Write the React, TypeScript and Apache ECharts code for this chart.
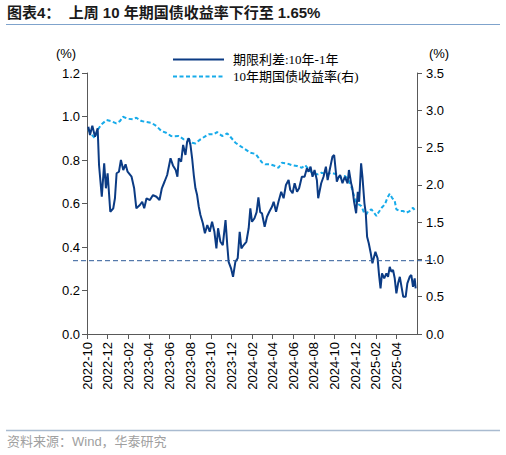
import React, { useEffect, useRef } from "react";
import * as echarts from "echarts";

const spreadDates = [
  "2022-10-05","2022-10-10","2022-10-17","2022-10-25","2022-11-02","2022-11-06","2022-11-14","2022-11-21","2022-11-26",
  "2022-12-01","2022-12-09","2022-12-18","2022-12-23","2022-12-28","2023-01-04","2023-01-10","2023-01-17","2023-01-24",
  "2023-01-30","2023-02-10","2023-02-17","2023-02-23","2023-03-05","2023-03-12","2023-03-18","2023-03-25","2023-04-04",
  "2023-04-13","2023-04-23","2023-05-02","2023-05-09","2023-05-17","2023-05-25","2023-06-04","2023-06-11","2023-06-19",
  "2023-06-24","2023-06-28","2023-07-05","2023-07-11","2023-07-18","2023-07-23","2023-07-28","2023-08-02","2023-08-07",
  "2023-08-12","2023-08-17","2023-08-22","2023-08-27","2023-09-01","2023-09-08","2023-09-14","2023-09-21","2023-09-28",
  "2023-10-05","2023-10-12","2023-10-18","2023-10-23","2023-10-30","2023-11-06","2023-11-14","2023-11-19","2023-11-23",
  "2023-11-30","2023-12-06","2023-12-13","2023-12-20","2023-12-26","2023-12-31","2024-01-07","2024-01-15","2024-01-22",
  "2024-01-27","2024-02-01","2024-02-08","2024-02-14","2024-02-19","2024-02-24","2024-02-29","2024-03-08","2024-03-15",
  "2024-03-22","2024-03-30","2024-04-04","2024-04-11","2024-04-18","2024-04-26","2024-05-03","2024-05-10","2024-05-18",
  "2024-05-23","2024-05-30","2024-06-05","2024-06-12","2024-06-18","2024-06-26","2024-07-04","2024-07-11","2024-07-16",
  "2024-07-22","2024-07-28","2024-08-03","2024-08-10","2024-08-14","2024-08-23","2024-08-30","2024-09-06","2024-09-11",
  "2024-09-18","2024-09-25","2024-09-30","2024-10-08","2024-10-13","2024-10-18","2024-10-25","2024-11-01","2024-11-09",
  "2024-11-13","2024-11-19","2024-11-23","2024-11-28","2024-12-04","2024-12-09","2024-12-13","2024-12-19","2024-12-23",
  "2024-12-29","2025-01-02","2025-01-06","2025-01-11","2025-01-17","2025-01-22","2025-01-27","2025-01-31","2025-02-06",
  "2025-02-10","2025-02-14","2025-02-18","2025-02-24","2025-03-02","2025-03-07","2025-03-12","2025-03-17","2025-03-22",
  "2025-03-27","2025-04-01","2025-04-06","2025-04-11","2025-04-16","2025-04-21","2025-04-28","2025-05-03","2025-05-10",
  "2025-05-15","2025-05-20","2025-05-25","2025-05-28",
];
const spreadValues = [
  0.953,0.915,0.958,0.907,0.946,0.777,0.631,0.785,0.670,
  0.739,0.562,0.578,0.624,0.739,0.746,0.800,0.754,0.780,
  0.746,0.723,0.670,0.578,0.593,0.608,0.578,0.624,0.616,
  0.639,0.631,0.616,0.670,0.700,0.731,0.808,0.775,0.754,
  0.723,0.808,0.792,0.869,0.823,0.884,0.900,0.869,0.808,
  0.731,0.670,0.639,0.585,0.547,0.509,0.463,0.501,0.470,
  0.516,0.470,0.394,0.486,0.424,0.409,0.524,0.409,0.332,
  0.302,0.263,0.332,0.348,0.470,0.394,0.409,0.424,0.486,
  0.578,0.516,0.532,0.560,0.628,0.560,0.555,0.493,0.539,
  0.562,0.585,0.608,0.562,0.608,0.654,0.624,0.685,0.708,
  0.662,0.647,0.693,0.654,0.670,0.723,0.723,0.762,0.746,
  0.769,0.723,0.754,0.708,0.624,0.693,0.723,0.769,0.708,
  0.762,0.815,0.823,0.700,0.720,0.731,0.693,0.723,0.693,
  0.754,0.696,0.670,0.608,0.555,0.654,0.608,0.785,0.723,
  0.601,0.555,0.447,0.417,0.371,0.325,0.355,0.378,0.348,
  0.271,0.210,0.279,0.256,0.279,0.263,0.309,0.286,0.294,
  0.256,0.187,0.233,0.263,0.217,0.171,0.171,0.233,0.263,
  0.271,0.217,0.256,0.210,
];

const yieldDates = [
  "2022-10-05","2022-10-14","2022-10-24","2022-11-03","2022-11-13","2022-11-28","2022-12-12","2022-12-27","2023-01-07",
  "2023-01-16","2023-01-31","2023-02-14","2023-02-23","2023-03-10","2023-03-25","2023-04-08","2023-04-23","2023-05-08",
  "2023-05-22","2023-06-06","2023-06-14","2023-06-28","2023-07-13","2023-07-28","2023-08-07","2023-08-17","2023-09-01",
  "2023-09-16","2023-09-25","2023-10-10","2023-10-20","2023-11-04","2023-11-19","2023-11-28","2023-12-13","2023-12-28",
  "2024-01-12","2024-01-27","2024-02-11","2024-02-20","2024-02-29","2024-03-10","2024-03-25","2024-04-09","2024-04-18",
  "2024-04-28","2024-05-13","2024-05-27","2024-06-12","2024-06-26","2024-07-06","2024-07-16","2024-07-31","2024-08-14",
  "2024-08-24","2024-09-08","2024-09-23","2024-10-07","2024-10-20","2024-11-01","2024-11-11","2024-11-21","2024-11-28",
  "2024-12-05","2024-12-12","2024-12-20","2024-12-28","2025-01-04","2025-01-09","2025-01-19","2025-01-27","2025-02-03",
  "2025-02-08","2025-02-17","2025-02-26","2025-03-05","2025-03-12","2025-03-19","2025-03-27","2025-04-01","2025-04-11",
  "2025-04-21","2025-04-30","2025-05-10","2025-05-20","2025-05-27",
];
const yieldValues = [
  2.744,2.677,2.631,2.744,2.811,2.869,2.855,2.824,2.855,
  2.913,2.886,2.878,2.900,2.855,2.842,2.833,2.788,2.721,
  2.698,2.654,2.650,2.654,2.610,2.610,2.565,2.556,2.610,
  2.654,2.677,2.677,2.708,2.654,2.690,2.645,2.565,2.520,
  2.476,2.430,2.415,2.360,2.300,2.275,2.275,2.252,2.229,
  2.296,2.288,2.265,2.252,2.229,2.265,2.208,2.141,2.141,
  2.162,2.141,2.162,2.141,2.095,2.120,2.074,1.961,1.850,
  1.760,1.739,1.716,1.626,1.605,1.649,1.672,1.626,1.582,
  1.626,1.693,1.739,1.827,1.881,1.827,1.783,1.672,1.649,
  1.649,1.626,1.649,1.693,1.650,
];

const referenceLevel = 0.337;

const seriesNames = ["期限利差:10年-1年", "10年期国债收益率(右)"];
const titleText = "图表4：  上周 10 年期国债收益率下行至 1.65%";
const sourceText = "资料来源：Wind，华泰研究";
const unitText = "(%)";

const xStartYear = 2022;
const xStartMonth = 10;
const xMaxMonths = 32;
const xStep = 2;
const leftMin = 0, leftMax = 1.2, leftStep = 0.2;
const rightMin = 0, rightMax = 3.5, rightStep = 0.5;

function toMonthIndex(s: string): number {
  const [y, m, d] = s.split("-").map(Number);
  const dim = new Date(y, m, 0).getDate();
  return (y - xStartYear) * 12 + (m - xStartMonth) + (d - 1) / dim;
}

function monthLabel(v: number): string {
  const r = Math.round(v);
  if (Math.abs(r - v) > 1e-6 || r % xStep !== 0 || r >= xMaxMonths) return "";
  const total = xStartYear * 12 + (xStartMonth - 1) + r;
  const y = Math.floor(total / 12);
  const m = (total % 12) + 1;
  return `${y}-${String(m).padStart(2, "0")}`;
}

const DARK = "#0B3B84";
const LIGHT = "#17ABEA";
const AXIS = "#595959";
const SANS = "'Liberation Sans', Arial, 'Noto Sans CJK SC', sans-serif";

export default function App() {
  const ref = useRef<HTMLDivElement>(null);
  useEffect(() => {
    document.body.style.margin = "0";
    if (!ref.current) return;
    const chart = echarts.init(ref.current, undefined, { renderer: "svg" });
    const spreadData = spreadDates.map((d, i) => [toMonthIndex(d), spreadValues[i]]);
    const yieldData = yieldDates.map((d, i) => [toMonthIndex(d), yieldValues[i]]);
    const axisLabelStyle = { color: "#000", fontSize: 13, fontFamily: SANS };
    chart.setOption({
      animation: false,
      grid: [
        { left: 87, right: 89, top: 73, bottom: 121 },
        { left: 73, right: 71, top: 73, bottom: 121 },
      ],
      legend: {
        data: seriesNames,
        orient: "vertical",
        left: 167,
        top: 48,
        itemWidth: 51,
        itemHeight: 14,
        itemGap: 4,
        itemStyle: { opacity: 0 },
        textStyle: {
          fontSize: 13,
          color: "#000",
          fontFamily: "'Liberation Serif', 'Noto Sans CJK SC', serif",
          padding: [0, 0, 0, 4],
        },
      },
      xAxis: [
        {
          type: "value",
          gridIndex: 0,
          min: 0,
          max: xMaxMonths,
          interval: xStep,
          splitLine: { show: false },
          axisLine: { lineStyle: { color: AXIS, width: 1 } },
          axisTick: { show: true, length: 5, lineStyle: { color: AXIS } },
          axisLabel: { ...axisLabelStyle, rotate: 90, margin: 8, formatter: monthLabel, showMaxLabel: false },
        },
        { type: "value", gridIndex: 1, min: 0, max: 1, show: false },
      ],
      yAxis: [
        {
          type: "value",
          gridIndex: 0,
          min: leftMin,
          max: leftMax,
          interval: leftStep,
          splitLine: { show: false },
          axisLine: { show: true, lineStyle: { color: AXIS, width: 1 } },
          axisTick: { show: true, length: 5, lineStyle: { color: AXIS } },
          axisLabel: { ...axisLabelStyle, margin: 7, formatter: (v: number) => v.toFixed(1) },
        },
        {
          type: "value",
          gridIndex: 0,
          position: "right",
          min: rightMin,
          max: rightMax,
          interval: rightStep,
          splitLine: { show: false },
          axisLine: { show: true, lineStyle: { color: AXIS, width: 1 } },
          axisTick: { show: true, length: 5, lineStyle: { color: AXIS } },
          axisLabel: { ...axisLabelStyle, margin: 9, formatter: (v: number) => v.toFixed(1) },
        },
        { type: "value", gridIndex: 1, min: leftMin, max: leftMax, show: false },
      ],
      series: [
        {
          name: seriesNames[1],
          type: "line",
          xAxisIndex: 0,
          yAxisIndex: 1,
          data: yieldData,
          symbol: "none",
          lineStyle: { color: LIGHT, width: 2, type: [4, 2.5] },
          itemStyle: { color: LIGHT },
        },
        {
          name: seriesNames[0],
          type: "line",
          xAxisIndex: 0,
          yAxisIndex: 0,
          data: spreadData,
          symbol: "none",
          lineStyle: { color: DARK, width: 2 },
          itemStyle: { color: DARK },
        },
        {
          name: "ref",
          type: "line",
          xAxisIndex: 1,
          yAxisIndex: 2,
          data: [[0, referenceLevel], [1, referenceLevel]],
          symbol: "none",
          silent: true,
          lineStyle: { color: "#2E5A98", width: 1, type: [5, 3] },
        },
      ],
      graphic: [
        {
          type: "text",
          left: 7,
          top: 5,
          style: { text: titleText, fontSize: 15, fontWeight: "bold", fill: "#1a1a1a", fontFamily: SANS },
        },
        { type: "line", shape: { x1: 6, y1: 24.5, x2: 500, y2: 24.5 }, style: { stroke: "#7FA3CC", lineWidth: 1 } },
        {
          type: "text",
          x: 66,
          y: 53,
          style: { text: unitText, fontSize: 13, fill: "#000", align: "center", verticalAlign: "middle", fontFamily: SANS },
        },
        {
          type: "text",
          x: 439,
          y: 53,
          style: { text: unitText, fontSize: 13, fill: "#000", align: "center", verticalAlign: "middle", fontFamily: SANS },
        },
        { type: "line", shape: { x1: 6, y1: 430.5, x2: 500, y2: 430.5 }, style: { stroke: "#A9BBD0", lineWidth: 1.5 } },
        {
          type: "text",
          left: 7,
          top: 435,
          style: { text: sourceText, fontSize: 13, fill: "#A0A0A0", fontFamily: SANS },
        },
      ],
    });
    return () => chart.dispose();
  }, []);
  return <div ref={ref} style={{ width: 506, height: 455 }} />;
}
